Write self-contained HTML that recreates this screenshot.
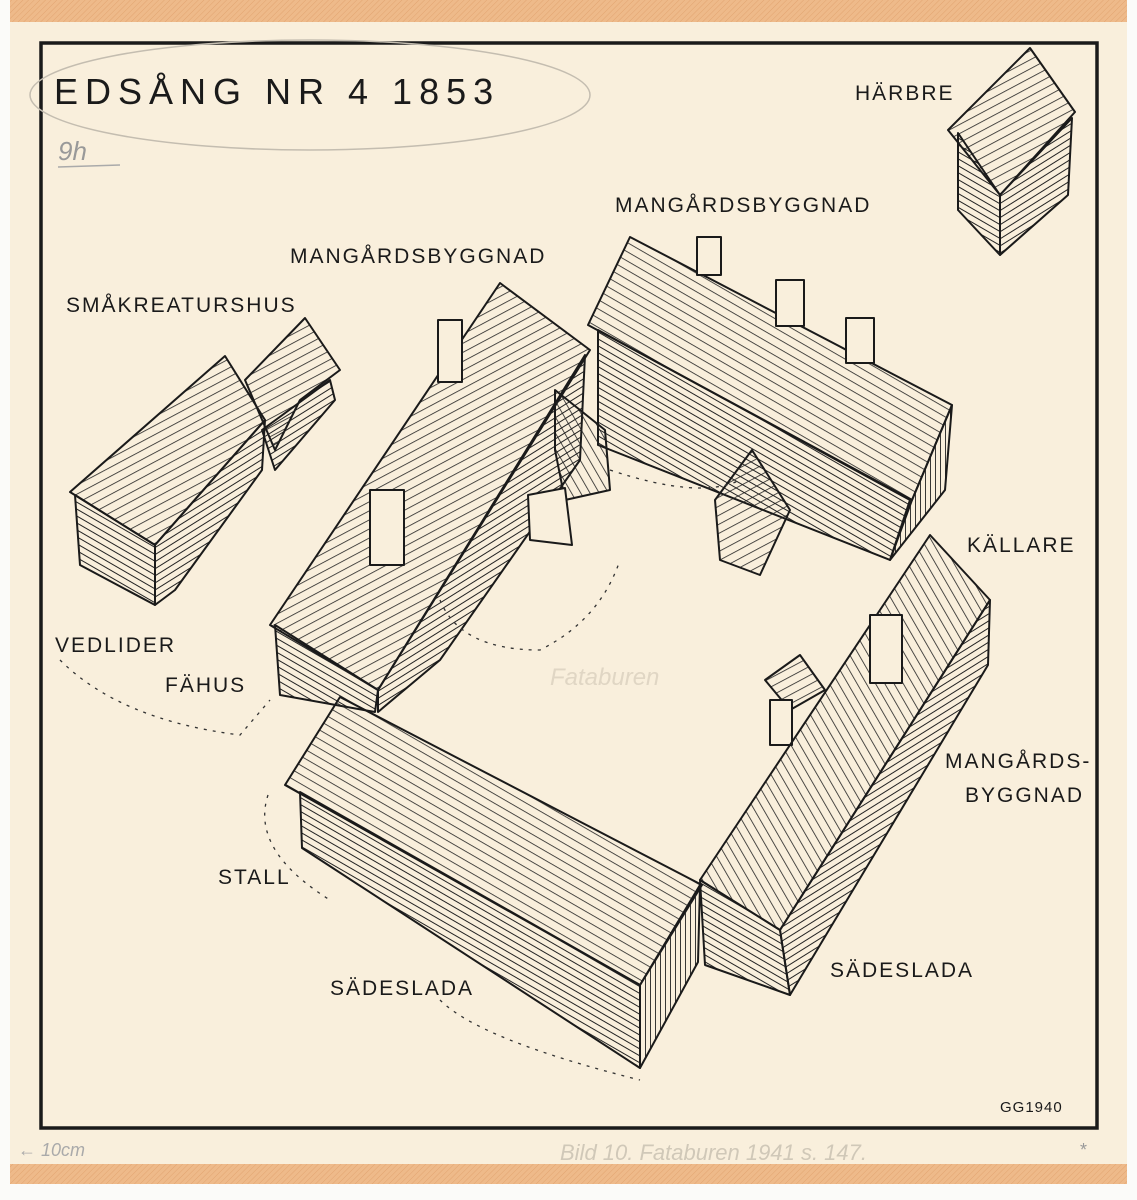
<!DOCTYPE html>
<html><head><meta charset="utf-8"><style>
html,body{margin:0;padding:0;background:#fbfbf9;}
svg{display:block}
text{font-family:"Liberation Sans",sans-serif;fill:#1a1a1a;}
.lab{font-size:21px;letter-spacing:2px;}
</style></head><body>
<svg width="1137" height="1200" viewBox="0 0 1137 1200" xmlns="http://www.w3.org/2000/svg">
<defs>
<pattern id="h1" width="8" height="8" patternUnits="userSpaceOnUse" patternTransform="rotate(62)"><line x1="0" y1="0" x2="0" y2="8" stroke="#222" stroke-width="1.6"/></pattern>
<pattern id="h2" width="8" height="8" patternUnits="userSpaceOnUse" patternTransform="rotate(-30)"><line x1="0" y1="0" x2="0" y2="8" stroke="#222" stroke-width="1.6"/></pattern>
<pattern id="h3" width="8" height="8" patternUnits="userSpaceOnUse" patternTransform="rotate(120)"><line x1="0" y1="0" x2="0" y2="8" stroke="#222" stroke-width="1.6"/></pattern>
<pattern id="w1" width="6" height="6" patternUnits="userSpaceOnUse" patternTransform="rotate(30)"><line x1="0" y1="0" x2="6" y2="0" stroke="#222" stroke-width="2"/></pattern>
<pattern id="w2" width="6" height="6" patternUnits="userSpaceOnUse" patternTransform="rotate(-32)"><line x1="0" y1="0" x2="6" y2="0" stroke="#222" stroke-width="2"/></pattern>
<pattern id="w3" width="5" height="5" patternUnits="userSpaceOnUse"><line x1="0" y1="0" x2="0" y2="5" stroke="#222" stroke-width="1.8"/></pattern>
<pattern id="tape" width="4" height="4" patternUnits="userSpaceOnUse" patternTransform="rotate(45)"><rect width="4" height="4" fill="#eeba8a"/><line x1="0" y1="0" x2="0" y2="4" stroke="#e2a470" stroke-width="1"/></pattern>
</defs>
<rect x="10" y="0" width="1117" height="1184" fill="#f9efdc"/>
<rect x="10" y="0" width="1117" height="22" fill="url(#tape)"/>
<rect x="10" y="1164" width="1117" height="20" fill="url(#tape)"/>
<rect x="41" y="43" width="1056" height="1085" fill="none" stroke="#1a1a1a" stroke-width="3.5"/>
<ellipse cx="310" cy="95" rx="280" ry="55" fill="none" stroke="#c4bdb0" stroke-width="1.5"/>
<text x="54" y="104" style="font-size:36px;letter-spacing:7px">EDSÅNG NR 4 1853</text>
<text x="58" y="160" style="font-size:26px;fill:#999;font-style:italic">9h</text>
<line x1="58" y1="167" x2="120" y2="165" stroke="#aaa" stroke-width="1.5"/>
<text x="18" y="1156" style="font-size:18px;fill:#aaa;font-style:italic">← 10cm</text>
<text x="560" y="1160" style="font-size:22px;fill:#d0c8b8;font-style:italic">Bild 10. Fataburen 1941 s. 147.</text>
<text x="1080" y="1156" style="font-size:18px;fill:#999">*</text>
<text x="550" y="685" style="font-size:24px;fill:#e0d6c4;font-style:italic">Fataburen</text>

<g stroke="#1a1a1a" stroke-width="2" stroke-linejoin="round">
<polygon points="245,380 305,318 340,370 300,400 275,450" fill="url(#h1)"/>
<polygon points="262,430 330,380 335,400 275,470" fill="url(#w2)"/>
<polygon points="70,492 225,356 265,420 155,545" fill="url(#h1)"/>
<polygon points="75,495 155,545 155,605 80,565" fill="url(#w1)"/>
<polygon points="155,545 265,420 262,470 175,590 155,605" fill="url(#w2)"/>
<polygon points="270,625 500,283 590,350 378,690" fill="url(#h1)"/>
<polygon points="275,625 378,690 375,712 280,695" fill="url(#w1)"/>
<polygon points="378,690 585,355 580,460 440,660 378,712" fill="url(#w2)"/>
<rect x="438" y="320" width="24" height="62" fill="#f9efdc"/>
<rect x="370" y="490" width="34" height="75" fill="#f9efdc"/>
<polygon points="588,325 630,237 952,405 912,500" fill="url(#h3)"/>
<polygon points="598,330 910,500 890,560 598,445" fill="url(#w1)"/>
<polygon points="912,500 952,405 945,490 890,560" fill="url(#w3)"/>
<rect x="697" y="237" width="24" height="38" fill="#f9efdc"/>
<rect x="776" y="280" width="28" height="46" fill="#f9efdc"/>
<rect x="846" y="318" width="28" height="45" fill="#f9efdc"/>
<polygon points="555,390 605,430 610,490 565,500 555,450" fill="url(#h2)"/>
<polygon points="528,495 565,488 572,545 530,540" fill="#f9efdc"/>
<polygon points="715,500 752,450 790,510 760,575 720,560" fill="url(#h1)"/>
<polygon points="765,680 800,655 825,690 790,710" fill="url(#h1)"/>
<rect x="770" y="700" width="22" height="45" fill="#f9efdc"/>
<polygon points="700,880 930,535 990,600 780,930" fill="url(#h2)"/>
<polygon points="700,880 780,930 790,995 705,965" fill="url(#w1)"/>
<polygon points="780,930 990,600 988,665 790,995" fill="url(#w2)"/>
<rect x="870" y="615" width="32" height="68" fill="#f9efdc"/>
<polygon points="285,785 340,697 702,885 640,985" fill="url(#h3)"/>
<polygon points="300,792 640,985 640,1068 302,848" fill="url(#w1)"/>
<polygon points="640,985 700,885 698,962 640,1068" fill="url(#w3)"/>
<polygon points="948,130 1030,48 1075,112 1000,195" fill="url(#h1)"/>
<polygon points="958,133 1000,195 1000,255 958,210" fill="url(#w1)"/>
<polygon points="1000,195 1072,118 1068,195 1000,255" fill="url(#w2)"/>
</g>
<g fill="none" stroke="#333" stroke-width="1.3" stroke-dasharray="3 6">
<path d="M60,660 Q120,720 240,735 L270,700"/>
<path d="M268,795 Q250,850 330,900"/>
<path d="M440,1000 Q480,1040 640,1080"/>
<path d="M440,600 Q460,650 540,650 Q600,620 620,560"/>
<path d="M610,470 Q700,500 740,480"/>
</g>
<text class="lab" x="855" y="100">HÄRBRE</text>
<text class="lab" x="615" y="212">MANGÅRDSBYGGNAD</text>
<text class="lab" x="290" y="263">MANGÅRDSBYGGNAD</text>
<text class="lab" x="66" y="312">SMÅKREATURSHUS</text>
<text class="lab" x="967" y="552">KÄLLARE</text>
<text class="lab" x="55" y="652">VEDLIDER</text>
<text class="lab" x="165" y="692">FÄHUS</text>
<text class="lab" x="945" y="768">MANGÅRDS-</text>
<text class="lab" x="965" y="802">BYGGNAD</text>
<text class="lab" x="218" y="884">STALL</text>
<text class="lab" x="830" y="977">SÄDESLADA</text>
<text class="lab" x="330" y="995">SÄDESLADA</text>
<text x="1000" y="1112" style="font-size:15px;letter-spacing:1px">GG1940</text>
</svg>
</body></html>
